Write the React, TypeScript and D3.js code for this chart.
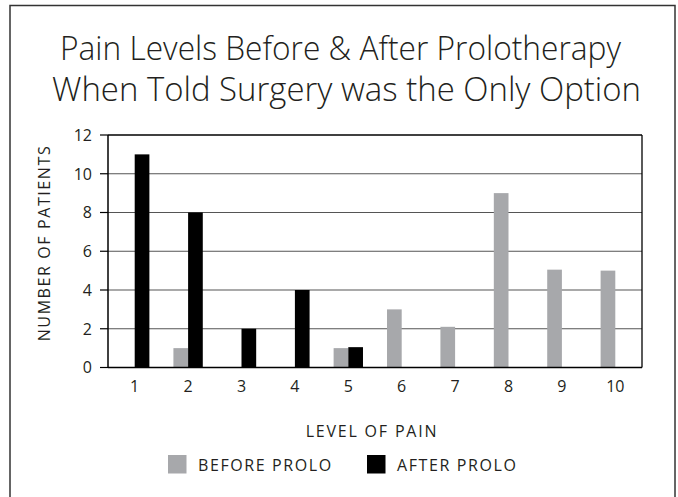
import React from 'react';
import * as d3 from 'd3';

const levels = ['1', '2', '3', '4', '5', '6', '7', '8', '9', '10'];
const beforeProlo = [0, 1, 0, 0, 1, 3, 2.1, 9, 5.05, 5];
const afterProlo = [11, 8, 2, 4, 1.05, 0, 0, 0, 0, 0];
const seriesNames = ['BEFORE PROLO', 'AFTER PROLO'];
const yTicks = [0, 2, 4, 6, 8, 10, 12];
const titleLines = ['Pain Levels Before & After Prolotherapy', 'When Told Surgery was the Only Option'];

const GREY = '#a7a8ab';
const BLACK = '#000';
const FONT = "'Open Sans', 'DejaVu Sans', sans-serif";

export default function App() {
  const margin = { left: 108, right: 642, top: 135, bottom: 367.5 };

  const x = d3
    .scaleBand()
    .domain(levels)
    .range([margin.left, margin.right])
    .paddingInner(0.45)
    .paddingOuter(0.225);

  const sub = d3
    .scaleBand()
    .domain(seriesNames)
    .range([0, x.bandwidth()]);

  const y = d3.scaleLinear().domain([0, 12]).range([margin.bottom, margin.top]);

  const rows = levels.map((l, i) => ({ level: l, values: [beforeProlo[i], afterProlo[i]] }));
  const colors = [GREY, BLACK];

  return (
    <svg width={678} height={497} style={{ position: 'absolute', left: 0, top: 0 }}>
      <rect x={0} y={0} width={678} height={497} fill="#fff" />
      <rect x={10} y={5.5} width={665} height={510} fill="none" stroke="#333" strokeWidth={1.5} />

      {/* title */}
      <text x={60} y={60} fontFamily={FONT} fontWeight={300} fontSize={33} fill="#231f20"
        textLength={561} lengthAdjust="spacingAndGlyphs">{titleLines[0]}</text>
      <text x={52} y={101} fontFamily={FONT} fontWeight={300} fontSize={33} fill="#231f20"
        textLength={589} lengthAdjust="spacingAndGlyphs">{titleLines[1]}</text>

      {/* gridlines */}
      {yTicks.filter((t) => t > 0 && t < 12).map((t) => (
        <line key={t} x1={margin.left} x2={margin.right} y1={y(t)} y2={y(t)} stroke="#555" strokeWidth={1.2} />
      ))}

      {/* bars */}
      {rows.map((r) => (
        <g key={r.level} transform={`translate(${x(r.level)},0)`}>
          {r.values.map((v, j) =>
            v > 0 ? (
              <rect key={j} x={sub(seriesNames[j])} y={y(v)} width={sub.bandwidth()}
                height={y(0) - y(v)} fill={colors[j]} />
            ) : null
          )}
        </g>
      ))}

      {/* frame */}
      <line x1={margin.left} x2={margin.right} y1={margin.top} y2={margin.top} stroke="#000" strokeWidth={1.3} />
      <line x1={margin.right} x2={margin.right} y1={margin.top} y2={margin.bottom} stroke="#000" strokeWidth={1.3} />
      <line x1={margin.left} x2={margin.left} y1={margin.top} y2={margin.bottom} stroke="#000" strokeWidth={1.5} />
      <line x1={margin.left} x2={margin.right} y1={margin.bottom} y2={margin.bottom} stroke="#000" strokeWidth={1.5} />

      {/* y axis */}
      {yTicks.map((t) => (
        <g key={t}>
          <line x1={margin.left - 8} x2={margin.left} y1={y(t)} y2={y(t)} stroke="#000" strokeWidth={1.2} />
          <text x={92} y={y(t)} dy="0.36em" textAnchor="end" fontFamily={FONT} fontSize={16} fill="#231f20">{t}</text>
        </g>
      ))}
      <text transform={`translate(50,243) rotate(-90)`} textAnchor="middle" fontFamily={FONT}
        fontSize={16} letterSpacing={1.6} fill="#231f20">NUMBER OF PATIENTS</text>

      {/* x axis */}
      {levels.map((l) => (
        <text key={l} x={(x(l) as number) + x.bandwidth() / 2} y={392} textAnchor="middle"
          fontFamily={FONT} fontSize={16} fill="#231f20">{l}</text>
      ))}
      <text x={372} y={437} textAnchor="middle" fontFamily={FONT} fontSize={16} letterSpacing={1.8}
        fill="#231f20">LEVEL OF PAIN</text>

      {/* legend */}
      <rect x={168} y={455} width={18.5} height={18.5} fill={GREY} />
      <text x={198} y={471} fontFamily={FONT} fontSize={16} letterSpacing={1.6} fill="#231f20">{seriesNames[0]}</text>
      <rect x={367} y={455} width={18.5} height={18.5} fill={BLACK} />
      <text x={397} y={471} fontFamily={FONT} fontSize={16} letterSpacing={1.6} fill="#231f20">{seriesNames[1]}</text>
    </svg>
  );
}
